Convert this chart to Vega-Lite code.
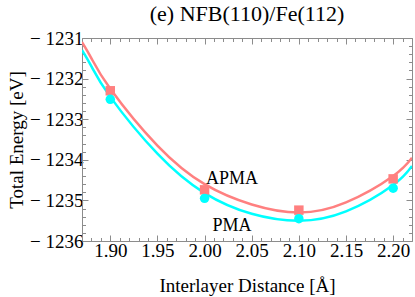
{
  "$schema": "https://vega.github.io/schema/vega-lite/v6.json",
  "width": 330,
  "height": 203,
  "autosize": "none",
  "padding": {"left": 82, "top": 38, "right": 3, "bottom": 56},
  "background": "white",
  "config": {
    "view": {"stroke": null},
    "font": "Liberation Serif",
    "axis": {
      "grid": false,
      "domainColor": "#8c8c8c",
      "tickColor": "#8c8c8c",
      "domainWidth": 1,
      "tickWidth": 1,
      "labelFont": "Liberation Serif",
      "labelFontSize": 19,
      "labelColor": "black",
      "titleFont": "Liberation Serif",
      "titleFontSize": 19,
      "titleFontWeight": "normal",
      "titleColor": "black"
    },
    "title": {"font": "Liberation Serif", "fontSize": 22, "fontWeight": "normal", "color": "black"}
  },
  "title": {"text": "(e) NFB(110)/Fe(112)", "anchor": "middle", "offset": 3},
  "datasets": {
    "curves": [
      {"d": 1.87, "E": -1231.1, "series": "APMA"},
      {"d": 1.88, "E": -1231.5, "series": "APMA"},
      {"d": 1.90, "E": -1232.25, "series": "APMA"},
      {"d": 1.95, "E": -1233.65, "series": "APMA"},
      {"d": 2.00, "E": -1234.6, "series": "APMA"},
      {"d": 2.05, "E": -1235.1, "series": "APMA"},
      {"d": 2.10, "E": -1235.3, "series": "APMA"},
      {"d": 2.15, "E": -1235.05, "series": "APMA"},
      {"d": 2.20, "E": -1234.4, "series": "APMA"},
      {"d": 2.22, "E": -1233.95, "series": "APMA"},
      {"d": 1.87, "E": -1231.3, "series": "PMA"},
      {"d": 1.88, "E": -1231.7, "series": "PMA"},
      {"d": 1.90, "E": -1232.45, "series": "PMA"},
      {"d": 1.95, "E": -1233.85, "series": "PMA"},
      {"d": 2.00, "E": -1234.82, "series": "PMA"},
      {"d": 2.05, "E": -1235.33, "series": "PMA"},
      {"d": 2.10, "E": -1235.5, "series": "PMA"},
      {"d": 2.15, "E": -1235.27, "series": "PMA"},
      {"d": 2.20, "E": -1234.62, "series": "PMA"},
      {"d": 2.22, "E": -1234.15, "series": "PMA"}
    ],
    "points": [
      {"d": 1.90, "E": -1232.30, "series": "APMA"},
      {"d": 2.00, "E": -1234.74, "series": "APMA"},
      {"d": 2.10, "E": -1235.24, "series": "APMA"},
      {"d": 2.20, "E": -1234.47, "series": "APMA"},
      {"d": 1.90, "E": -1232.51, "series": "PMA"},
      {"d": 2.00, "E": -1234.95, "series": "PMA"},
      {"d": 2.10, "E": -1235.45, "series": "PMA"},
      {"d": 2.20, "E": -1234.70, "series": "PMA"}
    ],
    "labels": [
      {"d": 2.029, "E": -1234.47, "label": "APMA"},
      {"d": 2.029, "E": -1235.63, "label": "PMA"}
    ]
  },
  "resolve": {"axis": {"x": "independent", "y": "independent"}},
  "layer": [
    {
      "data": {"name": "curves"},
      "mark": {"type": "line", "interpolate": "natural", "strokeWidth": 2.5, "clip": true},
      "encoding": {
        "x": {
          "field": "d", "type": "quantitative",
          "scale": {"domain": [1.87, 2.22], "nice": false, "zero": false},
          "axis": {
            "orient": "bottom",
            "title": "Interlayer Distance [Å]",
            "titlePadding": 14,
            "values": [1.87,1.88,1.89,1.90,1.91,1.92,1.93,1.94,1.95,1.96,1.97,1.98,1.99,2.00,2.01,2.02,2.03,2.04,2.05,2.06,2.07,2.08,2.09,2.10,2.11,2.12,2.13,2.14,2.15,2.16,2.17,2.18,2.19,2.20,2.21,2.22],
            "labelExpr": "round(datum.value*100) % 5 === 0 ? format(datum.value, '.2f') : ''",
            "tickSize": {"condition": {"test": "round(datum.value*100) % 5 === 0", "value": -6}, "value": -3.5},
            "labelPadding": 6,
            "labelFlush": false,
            "labelOverlap": false
          }
        },
        "y": {
          "field": "E", "type": "quantitative",
          "scale": {"domain": [-1236, -1231], "nice": false, "zero": false},
          "axis": {
            "orient": "left",
            "title": "Total Energy [eV]",
            "titlePadding": 3,
            "values": [-1236,-1235.8,-1235.6,-1235.4,-1235.2,-1235,-1234.8,-1234.6,-1234.4,-1234.2,-1234,-1233.8,-1233.6,-1233.4,-1233.2,-1233,-1232.8,-1232.6,-1232.4,-1232.2,-1232,-1231.8,-1231.6,-1231.4,-1231.2,-1231],
            "labelExpr": "abs(datum.value - round(datum.value)) < 0.01 ? '− ' + format(-datum.value, 'd') : ''",
            "tickSize": {"condition": {"test": "abs(datum.value - round(datum.value)) < 0.01", "value": -6}, "value": -3.5},
            "labelPadding": 5,
            "labelFlush": false,
            "labelOverlap": false
          }
        },
        "color": {
          "field": "series", "type": "nominal",
          "scale": {"domain": ["APMA", "PMA"], "range": ["#FF8080", "#00FFFF"]},
          "legend": null
        }
      }
    },
    {
      "data": {"name": "points"},
      "mark": {"type": "point", "filled": true, "opacity": 1, "size": 90},
      "encoding": {
        "x": {
          "field": "d", "type": "quantitative",
          "axis": {
            "orient": "top",
            "title": null,
            "labels": false,
            "values": [1.87,1.88,1.89,1.90,1.91,1.92,1.93,1.94,1.95,1.96,1.97,1.98,1.99,2.00,2.01,2.02,2.03,2.04,2.05,2.06,2.07,2.08,2.09,2.10,2.11,2.12,2.13,2.14,2.15,2.16,2.17,2.18,2.19,2.20,2.21,2.22],
            "tickSize": {"condition": {"test": "round(datum.value*100) % 5 === 0", "value": -6}, "value": -3.5}
          }
        },
        "y": {
          "field": "E", "type": "quantitative",
          "axis": {
            "orient": "right",
            "title": null,
            "labels": false,
            "values": [-1236,-1235.8,-1235.6,-1235.4,-1235.2,-1235,-1234.8,-1234.6,-1234.4,-1234.2,-1234,-1233.8,-1233.6,-1233.4,-1233.2,-1233,-1232.8,-1232.6,-1232.4,-1232.2,-1232,-1231.8,-1231.6,-1231.4,-1231.2,-1231],
            "tickSize": {"condition": {"test": "abs(datum.value - round(datum.value)) < 0.01", "value": -6}, "value": -3.5}
          }
        },
        "color": {"field": "series", "type": "nominal", "legend": null},
        "shape": {
          "field": "series", "type": "nominal",
          "scale": {"domain": ["APMA", "PMA"], "range": ["square", "circle"]},
          "legend": null
        }
      }
    },
    {
      "data": {"name": "labels"},
      "mark": {"type": "text", "fontSize": 18, "font": "Liberation Serif", "color": "black"},
      "encoding": {
        "x": {"field": "d", "type": "quantitative", "axis": null},
        "y": {"field": "E", "type": "quantitative", "axis": null},
        "text": {"field": "label"}
      }
    }
  ]
}
